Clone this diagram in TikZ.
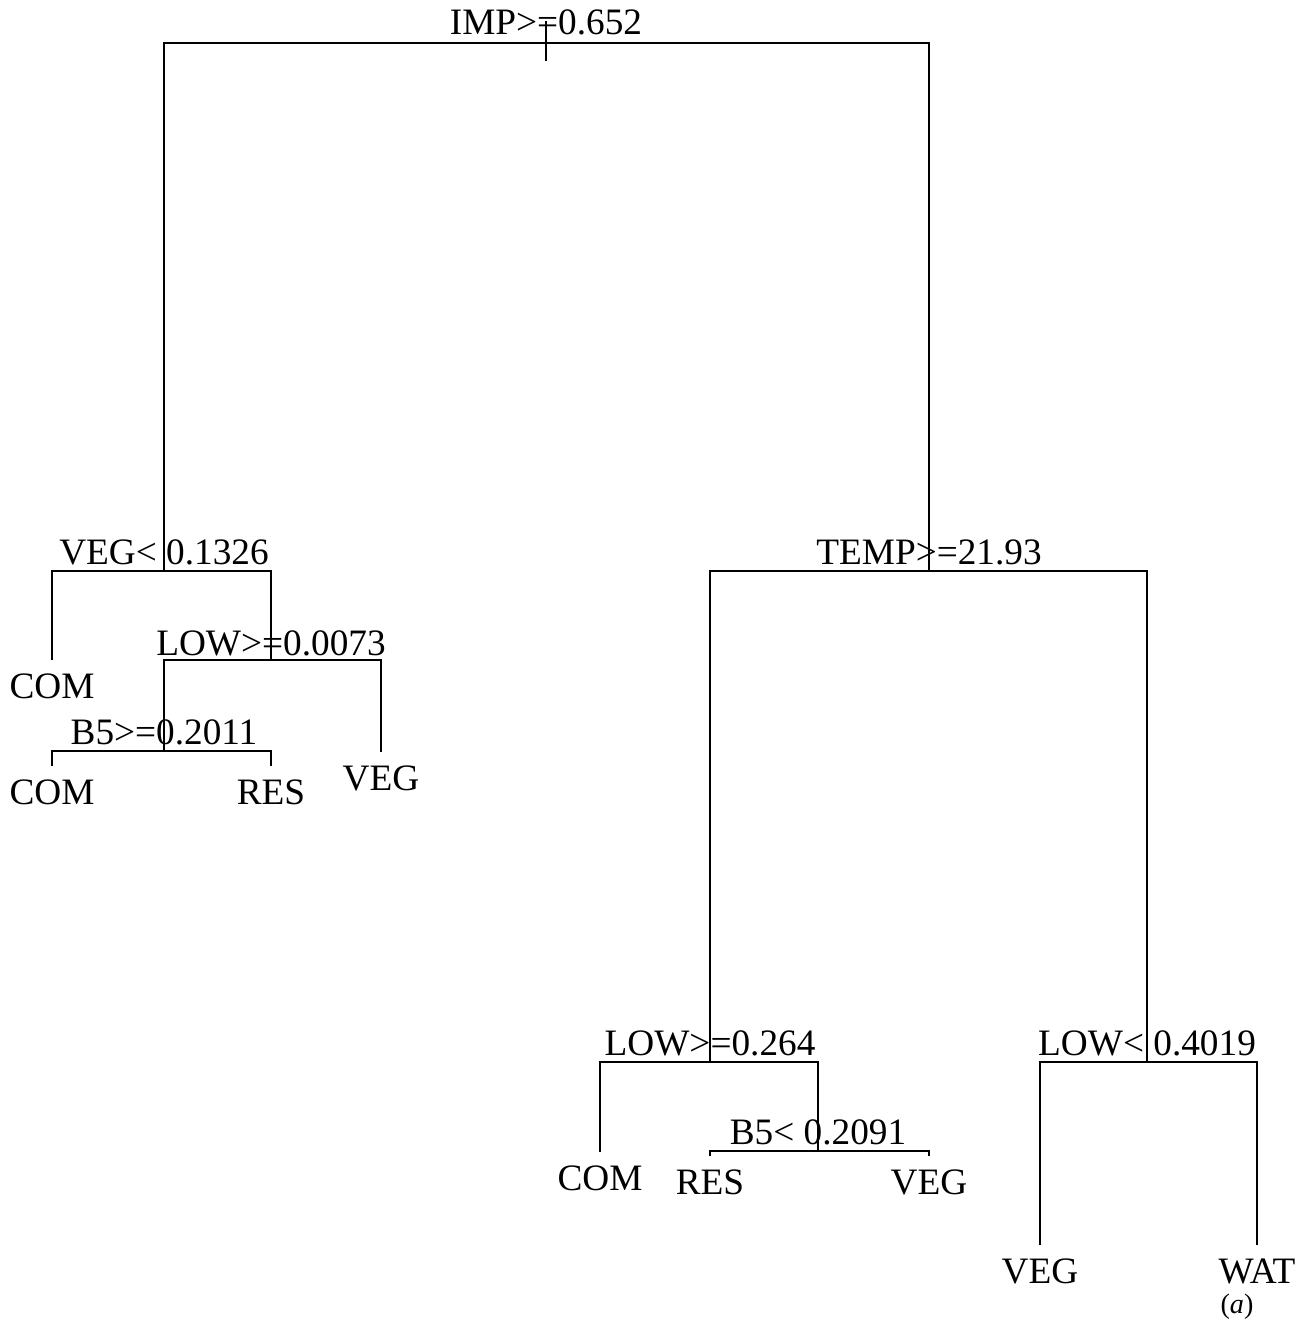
\documentclass[tikz,border=0pt]{standalone}
\usepackage{fontspec}
\setmainfont{Liberation Serif}
\usetikzlibrary{positioning, calc}

\begin{document}
\begin{tikzpicture}[
    x=0.01cm, y=-0.01cm,
    branch/.style={line width=0.65pt},
    splitlab/.style={
        anchor=base, inner sep=0pt, font=\fontsize{10.6}{12}\selectfont,
    },
    leaflab/.style={
        anchor=base, inner sep=0pt, font=\fontsize{10.6}{12}\selectfont,
    },
    panel/.style={
        anchor=base, inner sep=0pt, font=\fontsize{8}{10}\selectfont,
    },
]
\useasboundingbox (0,0) rectangle (1313,1325);

\def\labUp{7}
\def\leafDown{38}

% ── Split points ────────────────────────────────────────────────────────────
\coordinate (imp)  at (546,43);
\coordinate (veg)  at (164,571);
\coordinate (low1) at (271,660);
\coordinate (b51)  at (164,751);
\coordinate (temp) at (929,571);
\coordinate (low2) at (710,1062);
\coordinate (b52)  at (818,1151);
\coordinate (low3) at (1147,1062);

% ── Leaf ends ───────────────────────────────────────────────────────────────
\coordinate (comA) at (52,660);
\coordinate (vegA) at (381,752);
\coordinate (comB) at (52,766);
\coordinate (resA) at (271,766);
\coordinate (comC) at (600,1152);
\coordinate (resB) at (710,1156);
\coordinate (vegB) at (929,1156);
\coordinate (vegC) at (1040,1245);
\coordinate (watA) at (1257,1245);

% ── Split labels ────────────────────────────────────────────────────────────
\node[splitlab] (limp)  at ($(imp)+(0,-\labUp-1)$)  {IMP>=0.652};
\node[splitlab] (lveg)  at ($(veg)+(0,-\labUp)$)    {VEG< 0.1326};
\node[splitlab] (llow1) at ($(low1)+(0,-\labUp+2)$) {LOW>=0.0073};
\node[splitlab] (lb51)  at ($(b51)+(0,-\labUp)$)    {B5>=0.2011};
\node[splitlab] (ltemp) at ($(temp)+(0,-\labUp)$)   {TEMP>=21.93};
\node[splitlab] (llow2) at ($(low2)+(0,-\labUp)$)   {LOW>=0.264};
\node[splitlab] (lb52)  at ($(b52)+(0,-\labUp)$)    {B5< 0.2091};
\node[splitlab] (llow3) at ($(low3)+(0,-\labUp)$)   {LOW< 0.4019};

% ── Leaf labels ─────────────────────────────────────────────────────────────
\foreach \leaf/\cls in {comA/COM, vegA/VEG, comB/COM, resA/RES,
                        comC/COM, resB/RES, vegB/VEG, vegC/VEG, watA/WAT}
    \node[leaflab] (l\leaf) at ($(\leaf)+(0,\leafDown)$) {\cls};

\node[panel] (tag) at (1237,1313) {(\textit{a})};

% ── Branches ────────────────────────────────────────────────────────────────
\draw[branch] (imp) ++(0,-22) -- ++(0,40);
\draw[branch] (veg) -- (veg |- imp) -- (temp |- imp) -- (temp);

\draw[branch] (comA) -- (comA |- veg) -- (low1 |- veg) -- (low1);
\draw[branch] (b51) -- (b51 |- low1) -- (vegA |- low1) -- (vegA);
\draw[branch] (comB) -- (comB |- b51) -- (resA |- b51) -- (resA);

\draw[branch] (low2) -- (low2 |- temp) -- (low3 |- temp) -- (low3);
\draw[branch] (comC) -- (comC |- low2) -- (b52 |- low2) -- (b52);
\draw[branch] (resB) -- (resB |- b52) -- (vegB |- b52) -- (vegB);
\draw[branch] (vegC) -- (vegC |- low3) -- (watA |- low3) -- (watA);

\end{tikzpicture}
\end{document}
